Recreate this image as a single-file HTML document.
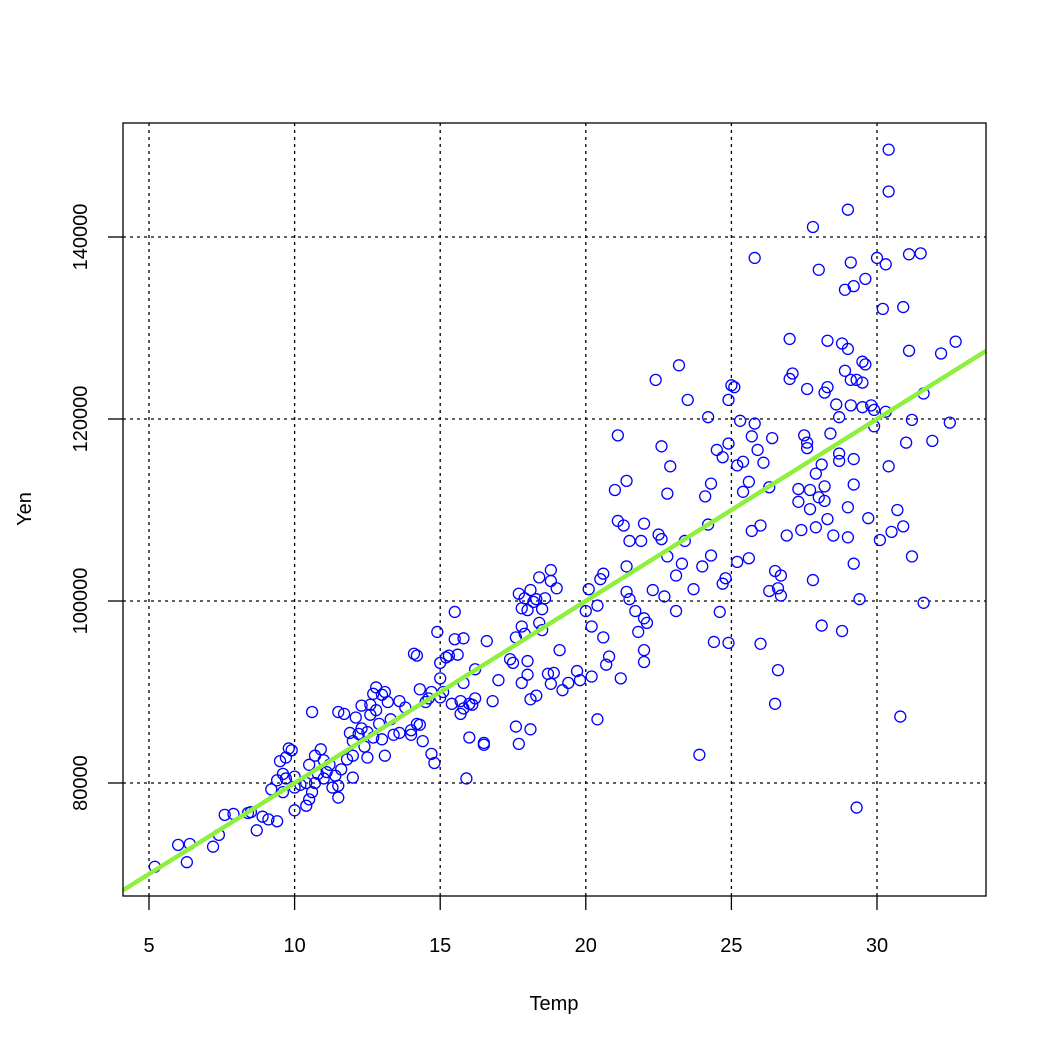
<!DOCTYPE html>
<html><head><meta charset="utf-8"><style>
html,body{margin:0;padding:0;background:#fff;}
svg{display:block;font-family:"Liberation Sans",Arial,sans-serif;}
</style></head><body>
<svg id="chart" width="1050" height="1050" viewBox="0 0 1050 1050" xmlns="http://www.w3.org/2000/svg">
<rect width="1050" height="1050" fill="#fff"/>
<g id="grid"></g>
<g id="points"></g>
<g id="fit"></g>
<rect x="123" y="123" width="863" height="773" fill="none" stroke="#000" stroke-width="1.3"/>
<g id="axes"></g>
<text x="554" y="1010" font-size="20" text-anchor="middle">Temp</text>
<text x="0" y="0" font-size="20" text-anchor="middle" transform="translate(31,509) rotate(-90)">Yen</text>
</svg>
<script>
const xTicks = [5, 10, 15, 20, 25, 30];
const yTicks = [80000, 100000, 120000, 140000];
const fitIntercept = 60000;
const fitSlope = 2000;
const temps = [5.2,6,6.3,6.4,7.2,7.4,7.6,7.9,8.4,8.5,8.7,8.9,9.1,9.2,9.4,9.4,9.5,9.6,9.6,9.7,9.7,9.8,9.9,10,10,10,10.2,10.4,10.4,10.5,10.5,10.6,10.6,10.7,10.7,10.8,10.9,11,11,11.1,11.2,11.3,11.4,11.5,11.5,11.5,11.6,11.7,11.8,11.9,12,12,12,12.1,12.2,12.3,12.3,12.4,12.5,12.5,12.6,12.6,12.7,12.7,12.8,12.8,12.9,13,13,13.1,13.2,13.1,13.3,13.4,13.6,13.6,13.8,14,14,14.1,14.2,14.2,14.3,14.3,14.4,14.5,14.6,14.7,14.7,14.8,14.9,15,15,15,15.1,15.2,15.3,15.4,15.5,15.5,15.6,15.7,15.7,15.8,15.8,15.8,15.9,16,16,16.1,16.2,16.2,16.5,16.5,16.6,16.8,17,17.4,17.5,17.6,17.6,17.7,17.7,17.8,17.8,17.8,17.9,17.9,18,18,18,18.1,18.1,18.1,18.2,18.3,18.3,18.4,18.4,18.5,18.5,18.6,18.7,18.8,18.8,18.8,18.9,19,19.1,19.2,19.4,19.7,19.8,20,20.1,20.2,20.2,20.4,20.4,20.5,20.6,20.6,20.7,20.8,21,21.1,21.1,21.2,21.3,21.4,21.4,21.4,21.5,21.5,21.7,21.8,21.9,22,22,22,22,22.1,22.3,22.4,22.5,22.6,22.6,22.7,22.8,22.8,22.9,23.1,23.1,23.2,23.3,23.4,23.5,23.7,23.9,24,24.1,24.2,24.2,24.3,24.3,24.4,24.5,24.6,24.7,24.7,24.8,24.9,24.9,24.9,25,25.1,25.2,25.2,25.3,25.4,25.4,25.6,25.6,25.7,25.7,25.8,25.8,25.9,26,26,26.1,26.3,26.3,26.4,26.5,26.5,26.6,26.6,26.7,26.7,26.9,27,27,27.1,27.3,27.3,27.4,27.5,27.6,27.6,27.6,27.7,27.7,27.8,27.8,27.9,27.9,28,28,28.1,28.1,28.2,28.2,28.2,28.3,28.3,28.3,28.4,28.5,28.6,28.7,28.7,28.7,28.8,28.8,28.9,28.9,29,29,29,29,29.1,29.1,29.1,29.2,29.2,29.2,29.2,29.3,29.3,29.4,29.5,29.5,29.5,29.6,29.6,29.7,29.8,29.9,29.9,30,30.1,30.2,30.3,30.3,30.4,30.4,30.4,30.5,30.7,30.8,30.9,30.9,31,31.1,31.1,31.2,31.2,31.5,31.6,31.6,31.9,32.2,32.5,32.7];
const yens = [70800,73200,71300,73300,73000,74300,76500,76600,76700,76800,74800,76300,76000,79300,75800,80300,82400,79000,81000,80500,82800,83800,83600,77000,80700,79500,79800,77500,80000,78200,82000,87800,79000,80000,83000,81000,83700,82500,80500,81200,82000,79500,80800,78400,79700,87800,81500,87600,82600,85500,84600,80600,83000,87200,85400,88500,86000,84000,82800,85600,87500,88600,85000,89800,90500,88000,86500,84800,89700,90000,88900,83000,87000,85300,89000,85500,88300,85800,85300,94200,94000,86500,90300,86400,84600,88900,89300,90000,83200,82200,96600,89400,91500,93200,90000,93800,94000,88700,98800,95800,94100,87600,89000,88200,95900,91000,80500,85000,88700,88600,92500,89300,84400,84200,95600,89000,91300,93600,93200,86200,96000,84300,100800,99200,97200,91000,96400,100300,99000,91900,93400,89200,101200,85900,99900,100200,89600,102600,97600,96800,99100,100300,92000,90900,103400,102200,92100,101400,94600,90200,91000,92300,91300,98900,101300,91700,97200,99500,87000,102400,96000,103000,93000,93900,112200,118200,108800,91500,108300,113200,103800,101000,100200,106600,98900,96600,106600,98100,94600,93300,108500,97600,101200,124300,107300,117000,106800,100500,104900,111800,114800,102800,98900,125900,104100,106600,122100,101300,83100,103800,111500,120200,108400,112900,105000,95500,116600,98800,101900,115800,102500,122100,117300,95400,123700,123500,114900,104300,119800,115300,112000,113100,104700,107700,118100,119500,137700,116600,95300,108300,115200,101100,112500,117900,103300,88700,92400,101400,100600,102800,107200,124400,128800,125000,112300,110900,107800,118200,117400,116800,123300,110100,112200,102300,141100,114000,108100,111400,136400,97300,115000,122900,112600,111000,123500,128600,109000,118400,107200,121600,120200,116200,115400,128300,96700,134200,125300,143000,110300,107000,127700,137200,124300,121500,134600,115600,112800,104100,77300,124300,100200,121300,124000,126300,126000,135400,109100,121500,119200,121000,137700,106700,132100,137000,120800,149600,145000,114800,107600,110000,87300,132300,108200,117400,127500,138100,119900,104900,138200,122800,99800,117600,127200,119600,128500];

const NS = "http://www.w3.org/2000/svg";
const L = 123, R = 986, T = 123, B = 896;
function xs(t){ return 149 + (t - 5) * (877 - 149) / 25; }
function ys(v){ return 783 - (v - 80000) * (783 - 237) / 60000; }
function mk(tag, attrs, parent){ const e = document.createElementNS(NS, tag); for (const k in attrs) e.setAttribute(k, attrs[k]); parent.appendChild(e); return e; }

const grid = document.getElementById('grid');
const axes = document.getElementById('axes');
xTicks.forEach(t => {
  const x = xs(t);
  const g = mk('line', {x1:x, x2:x, y1:T, y2:B, stroke:'#000', 'stroke-width':1.3, 'stroke-dasharray':'3,4'}, grid);
  
  
  const tk = mk('line', {x1:x, x2:x, y1:B, y2:B+14, stroke:'#000', 'stroke-width':1.3}, axes);
  
  
  const lb = mk('text', {x:x, y:952, 'font-size':20, 'text-anchor':'middle'}, axes);
  lb.textContent = t;
  
  
});
yTicks.forEach(v => {
  const y = ys(v);
  const g = mk('line', {x1:L, x2:R, y1:y, y2:y, stroke:'#000', 'stroke-width':1.3, 'stroke-dasharray':'3,4'}, grid);
  
  
  const tk = mk('line', {x1:L-15, x2:L, y1:y, y2:y, stroke:'#000', 'stroke-width':1.3}, axes);
  
  
  const lb = mk('text', {x:0, y:0, 'font-size':20, 'text-anchor':'middle', transform:'translate(87,'+y+') rotate(-90)'}, axes);
  lb.textContent = v;
  
  
});
const pts = document.getElementById('points');
temps.forEach((t, i) => {
  const c = mk('circle', {cx:xs(t), cy:ys(yens[i]), r:5.5, fill:'none', stroke:'#0000ff', 'stroke-width':1.3}, pts);
  
  
});
const t0 = 5 + (L - 149) * 25 / (877 - 149);
const t1 = 5 + (R - 149) * 25 / (877 - 149);
const fl = mk('line', {x1:L, y1:ys(fitIntercept + fitSlope*t0), x2:R, y2:ys(fitIntercept + fitSlope*t1), stroke:'#8fef3f', 'stroke-width':4.5}, document.getElementById('fit'));


</script>
</body></html>
